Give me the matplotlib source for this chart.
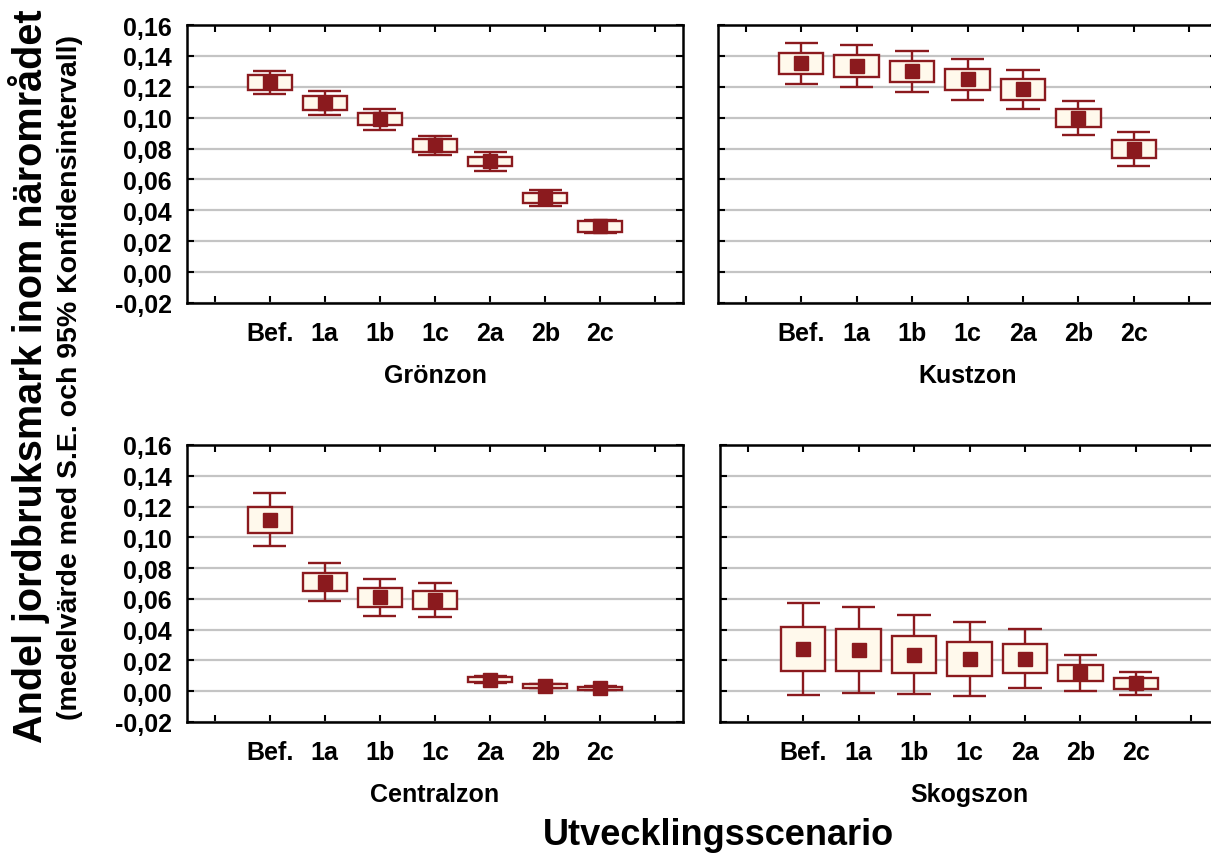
import numpy as np
import matplotlib
matplotlib.use("Agg")
import matplotlib.pyplot as plt

# ---------------------------  Data  --------------------------- #

scenarios = ["Bef.", "1a", "1b", "1c", "2a", "2b", "2c"]

# mean share, standard error (box) and 95% CI half-width (whiskers)
gron_mean = [0.1228, 0.1097, 0.0991, 0.0821, 0.0717, 0.0478, 0.0297]
gron_se = [0.0050, 0.0046, 0.0038, 0.0043, 0.0029, 0.0032, 0.0037]
gron_ci = [0.0075, 0.0077, 0.0068, 0.0062, 0.0061, 0.0051, 0.0043]

kust_mean = [0.1351, 0.1334, 0.1299, 0.1249, 0.1184, 0.0996, 0.0796]
kust_se = [0.0070, 0.0070, 0.0068, 0.0069, 0.0069, 0.0059, 0.0059]
kust_ci = [0.0132, 0.0135, 0.0133, 0.0133, 0.0126, 0.0111, 0.0108]

central_mean = [0.1115, 0.0710, 0.0610, 0.0594, 0.0076, 0.0034, 0.0018]
central_se = [0.0085, 0.0060, 0.0060, 0.0060, 0.0018, 0.0013, 0.0011]
central_ci = [0.0171, 0.0124, 0.0118, 0.0110, 0.0022, 0.0016, 0.0013]

skog_mean = [0.0275, 0.0267, 0.0238, 0.0212, 0.0212, 0.0120, 0.0053]
skog_se = [0.0142, 0.0135, 0.0118, 0.0110, 0.0093, 0.0052, 0.0036]
skog_ci = [0.0297, 0.0281, 0.0256, 0.0240, 0.0190, 0.0116, 0.0075]

zones = ["Grönzon", "Kustzon", "Centralzon", "Skogszon"]
y_ticks = [-0.02, 0.00, 0.02, 0.04, 0.06, 0.08, 0.10, 0.12, 0.14, 0.16]

# ---------------------------  Style  --------------------------- #

plt.rcParams['font.family'] = ['Liberation Sans', 'DejaVu Sans']
plt.rcParams['font.weight'] = 'bold'
plt.rcParams['axes.labelweight'] = 'bold'

dark_red = "#8B1A1E"
box_fill = "#FFF9EC"
grid_grey = "#C4C4C4"

W, H = 1211, 854
fig = plt.figure(figsize=(W / 100, H / 100), dpi=100)


def add_panel(x0, y0, x1, y1):
    # pixel box (from top-left) -> figure fraction
    return fig.add_axes([x0 / W, 1 - y1 / H, (x1 - x0) / W, (y1 - y0) / H])


def draw_zone(ax, mean, se, ci, zone, show_y):
    x = np.arange(1, len(scenarios) + 1)
    mean, se, ci = np.asarray(mean), np.asarray(se), np.asarray(ci)

    # whiskers + caps
    ax.vlines(x, mean - ci, mean + ci, color=dark_red, lw=1.7, zorder=2)
    ax.hlines(np.r_[mean - ci, mean + ci], np.r_[x, x] - 0.3, np.r_[x, x] + 0.3,
              color=dark_red, lw=1.7, zorder=2)
    # S.E. box
    ax.bar(x, 2 * se, bottom=mean - se, width=0.8, facecolor=box_fill,
           edgecolor=dark_red, linewidth=1.7, zorder=3)
    # mean
    ax.plot(x, mean, 's', ms=10.5, color=dark_red, mec=dark_red, zorder=4)

    ax.set_xlim(-0.5, 8.5)
    ax.set_ylim(-0.02, 0.16)
    ax.set_xticks(range(9))
    ax.set_xticklabels([""] + scenarios + [""])
    ax.set_yticks(y_ticks)
    ax.set_yticklabels([f"{v:.2f}".replace(".", ",") for v in y_ticks])
    ax.tick_params(direction="in", length=5, width=1.5, top=True, right=True,
                   labelsize=18, pad=11, labelleft=show_y)
    ax.tick_params(axis="x", pad=13)
    ax.grid(axis="y", color=grid_grey, lw=1.6, zorder=0)
    ax.set_axisbelow(True)
    for sp in ax.spines.values():
        sp.set_linewidth(1.8)
    ax.set_xlabel(zone, fontsize=18, fontweight="bold", labelpad=13)


ax_gron = add_panel(187, 26, 683, 304)
ax_kust = add_panel(718, 26, 1217, 304)
ax_central = add_panel(187, 446, 683, 723)
ax_skog = add_panel(720, 446, 1219, 723)

draw_zone(ax_gron, gron_mean, gron_se, gron_ci, zones[0], True)
draw_zone(ax_kust, kust_mean, kust_se, kust_ci, zones[1], False)
draw_zone(ax_central, central_mean, central_se, central_ci, zones[2], True)
draw_zone(ax_skog, skog_mean, skog_se, skog_ci, zones[3], False)

fig.text(29 / W, 1 - 376 / H, "Andel jordbruksmark inom närområdet",
         rotation=90, fontsize=28.5, ha="center", va="center")
fig.text(70 / W, 1 - 378 / H, "(medelvärde med S.E. och 95% Konfidensintervall)",
         rotation=90, fontsize=20.5, ha="center", va="center")
fig.text(718 / W, 1 - 836 / H, "Utvecklingsscenario",
         fontsize=26, ha="center", va="center")

fig.savefig("out.png", dpi=100)
